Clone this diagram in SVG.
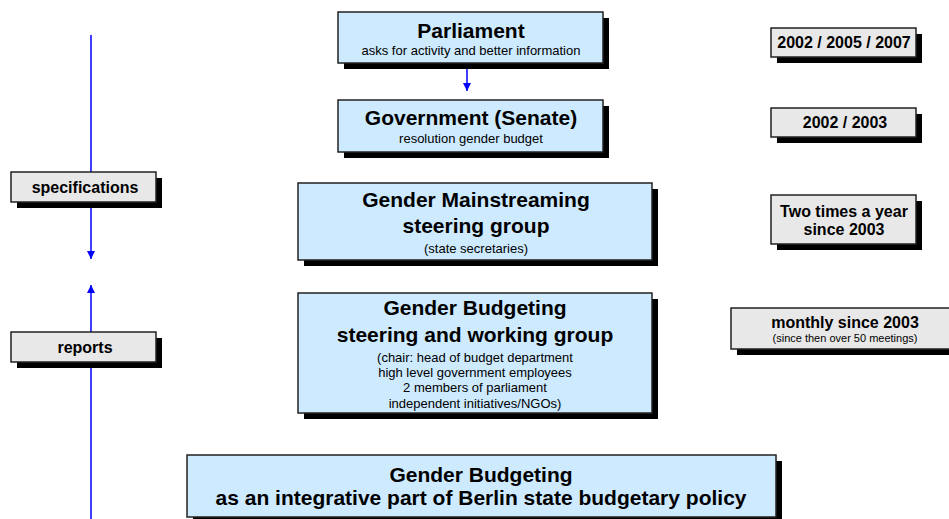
<svg xmlns="http://www.w3.org/2000/svg" width="949" height="519" viewBox="0 0 949 519">
<defs>
<style>
.box{fill:#cdeaff;stroke:#222;stroke-width:1.5}
.gbox{fill:#e8e8e8;stroke:#222;stroke-width:1.5}
.sh{fill:#000}
.t{font-family:"Liberation Sans",Arial,sans-serif;font-weight:bold;font-size:21px;fill:#000;text-anchor:middle}
.s{font-family:"Liberation Sans",Arial,sans-serif;font-size:13px;fill:#000;text-anchor:middle}
.g{font-family:"Liberation Sans",Arial,sans-serif;font-weight:bold;font-size:16px;fill:#000;text-anchor:middle}
.xs{font-family:"Liberation Sans",Arial,sans-serif;font-size:11px;fill:#000;text-anchor:middle}
.ln{stroke:#0000ff;stroke-width:1.5;fill:none}
</style>
<marker id="ah" viewBox="0 0 8 8" refX="8" refY="4" markerWidth="8" markerHeight="8" markerUnits="userSpaceOnUse" orient="auto">
<path d="M0,0 L8,4 L0,8 Z" fill="#0000ff"/>
</marker>
</defs>
<g id="connectors">
<line class="ln" x1="467" y1="64" x2="467" y2="91" marker-end="url(#ah)"/>
<line class="ln" x1="91" y1="35" x2="91" y2="172"/>
<line class="ln" x1="91" y1="202" x2="91" y2="259" marker-end="url(#ah)"/>
<line class="ln" x1="91" y1="332" x2="91" y2="285" marker-end="url(#ah)"/>
<line class="ln" x1="91" y1="362" x2="91" y2="519"/>
</g>
<g id="parliament">
<rect class="sh" x="344" y="18" width="265" height="51"/>
<rect class="box" x="338" y="12" width="265" height="51"/>
<text class="t" x="471" y="38">Parliament</text>
<text class="s" x="471" y="55">asks for activity and better information</text>
</g>
<g id="government">
<rect class="sh" x="344" y="106" width="265" height="52"/>
<rect class="box" x="338" y="100" width="265" height="52"/>
<text class="t" x="471" y="125">Government (Senate)</text>
<text class="s" x="471" y="143">resolution gender budget</text>
</g>
<g id="gm-steering">
<rect class="sh" x="304" y="189" width="354" height="77"/>
<rect class="box" x="298" y="183" width="354" height="77"/>
<text class="t" x="476" y="207">Gender Mainstreaming</text>
<text class="t" x="476" y="233">steering group</text>
<text class="s" x="476" y="253">(state secretaries)</text>
</g>
<g id="gb-steering">
<rect class="sh" x="304" y="299" width="354" height="120"/>
<rect class="box" x="298" y="293" width="354" height="120"/>
<text class="t" x="475" y="315">Gender Budgeting</text>
<text class="t" x="475" y="342">steering and working group</text>
<text class="s" x="475" y="362">(chair: head of budget department</text>
<text class="s" x="475" y="377">high level government employees</text>
<text class="s" x="475" y="392">2 members of parliament</text>
<text class="s" x="475" y="408">independent initiatives/NGOs)</text>
</g>
<g id="gb-policy">
<rect class="sh" x="193" y="461" width="589" height="62"/>
<rect class="box" x="187" y="455" width="589" height="62"/>
<text class="t" x="481" y="482">Gender Budgeting</text>
<text class="t" x="481" y="505">as an integrative part of Berlin state budgetary policy</text>
</g>
<g id="date-parliament">
<rect class="sh" x="777" y="34" width="145" height="29"/>
<rect class="gbox" x="771" y="28" width="145" height="29"/>
<text class="g" x="844" y="48">2002 / 2005 / 2007</text>
</g>
<g id="date-government">
<rect class="sh" x="777" y="114" width="145" height="29"/>
<rect class="gbox" x="771" y="108" width="145" height="29"/>
<text class="g" x="845" y="128">2002 / 2003</text>
</g>
<g id="date-gm">
<rect class="sh" x="777" y="201" width="145" height="49"/>
<rect class="gbox" x="771" y="195" width="145" height="49"/>
<text class="g" x="844" y="217">Two times a year</text>
<text class="g" x="844" y="235">since 2003</text>
</g>
<g id="date-gb">
<rect class="sh" x="737" y="314" width="228" height="41"/>
<rect class="gbox" x="731" y="308" width="228" height="41"/>
<text class="g" x="845" y="328">monthly since 2003</text>
<text class="xs" x="845" y="342">(since then over 50 meetings)</text>
</g>
<g id="specifications">
<rect class="sh" x="17" y="178" width="145" height="30"/>
<rect class="gbox" x="11" y="172" width="145" height="30"/>
<text class="g" x="85" y="193">specifications</text>
</g>
<g id="reports">
<rect class="sh" x="17" y="338" width="145" height="30"/>
<rect class="gbox" x="11" y="332" width="145" height="30"/>
<text class="g" x="85" y="353">reports</text>
</g>
</svg>
